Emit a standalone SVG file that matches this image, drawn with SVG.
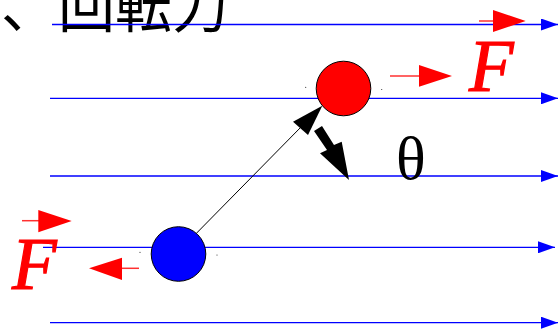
<svg xmlns="http://www.w3.org/2000/svg" width="558" height="329" viewBox="0 0 558 329">
<style>
.field{stroke:#0000ff;stroke-width:1.3;fill:none}
.red{stroke:#ff3030;stroke-width:1.5;fill:none}
.F{font-family:"Liberation Serif",serif;font-style:italic;font-size:73px;fill:#ff0000;stroke:#ff0000;stroke-width:1.2}
.dot{fill:#333}
</style>
<defs>
<marker id="ab" markerUnits="userSpaceOnUse" markerWidth="18" markerHeight="12" refX="17" refY="6" orient="auto">
<path d="M0,0 L17,6 L0,12 Z" fill="#0000ff"/>
</marker>
</defs>
<rect width="558" height="329" fill="#fff"/>
<text x="1" y="27" font-family="'Noto Sans CJK JP',sans-serif" font-size="57" fill="#000">、回転力</text>
<g id="field-lines">
<line class="field" x1="52" y1="24.5" x2="558" y2="24.5" marker-end="url(#ab)"/>
<line class="field" x1="50" y1="98.3" x2="558" y2="98.3" marker-end="url(#ab)"/>
<line class="field" x1="50" y1="176" x2="558" y2="176" marker-end="url(#ab)"/>
<line class="field" x1="43" y1="247.3" x2="555" y2="247.3" marker-end="url(#ab)"/>
<line class="field" x1="50" y1="322.7" x2="558" y2="322.7" marker-end="url(#ab)"/>
</g>
<g id="connectors">
<line x1="196.7" y1="233" x2="302" y2="126" stroke="#000" stroke-width="1"/>
<path d="M322.3,105.7 L293,121.7 L308,135 Z" fill="#000"/>
<path d="M314,131 L322,126 L334,145 L341.7,141.7 L349,180 L320,153.3 L327,150 Z" fill="#000"/>
</g>
<g id="red-ball">
<circle cx="343.5" cy="88.5" r="27.3" fill="#ff0000" stroke="#000" stroke-width="1"/>
</g>
<g id="blue-ball">
<circle cx="178.5" cy="254" r="27.3" fill="#0000ff" stroke="#000" stroke-width="1"/>
</g>
<circle class="dot" cx="305.7" cy="87.3" r="0.6"/>
<circle class="dot" cx="381.7" cy="89.5" r="0.6"/>
<circle class="dot" cx="140" cy="252.3" r="0.6"/>
<circle class="dot" cx="217" cy="255" r="0.6"/>
<g id="force-top">
<line class="red" x1="479" y1="21" x2="494" y2="21"/>
<path d="M493,10 L525.7,21 L493,32 Z" fill="#ff0000"/>
</g>
<g id="force-red">
<line class="red" x1="390" y1="76" x2="420" y2="76"/>
<path d="M419,65 L452,76 L419,86.7 Z" fill="#ff0000"/>
<text class="F" x="469" y="91">F</text>
</g>
<g id="force-blue">
<line class="red" x1="139" y1="268.3" x2="121" y2="268.3"/>
<path d="M122,257.7 L89,268.3 L122,280 Z" fill="#ff0000"/>
<line class="red" x1="22" y1="220.7" x2="39" y2="220.7"/>
<path d="M38.3,210 L71.7,221 L38.3,232.3 Z" fill="#ff0000"/>
<text class="F" x="12" y="289">F</text>
</g>
<g id="theta">
<text x="396" y="179" font-family="'Liberation Serif',serif" font-size="62" fill="#000">θ</text>
</g>
</svg>
